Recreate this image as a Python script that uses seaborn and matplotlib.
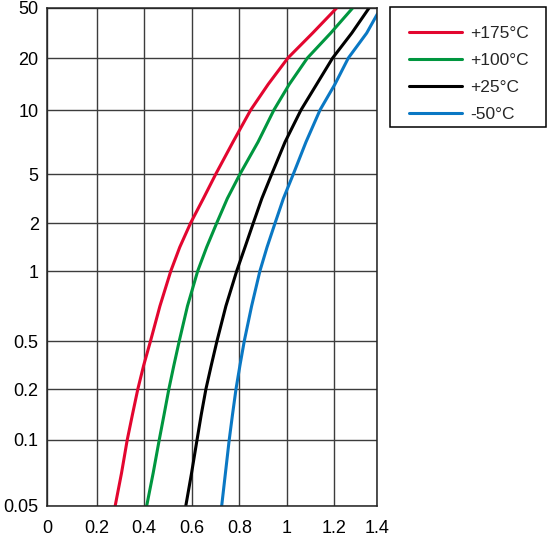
import numpy as np
import pandas as pd
import matplotlib
matplotlib.use("Agg")
import matplotlib.pyplot as plt
from matplotlib.patches import Rectangle
import seaborn as sns

sns.set_theme(style="white")
plt.rcParams['font.family'] = ['Liberation Sans', 'DejaVu Sans']

# tick values (non-uniform printed grid) and their relative positions on the chart
y_ticks = [0.05, 0.1, 0.2, 0.5, 1, 2, 5, 10, 20, 50]
y_tick_labels = ["0.05", "0.1", "0.2", "0.5", "1", "2", "5", "10", "20", "50"]
y_tick_pos = [0, 66, 117, 165, 235, 283, 332, 396, 448, 498]
x_ticks = [0, 0.2, 0.4, 0.6, 0.8, 1.0, 1.2, 1.4]
x_tick_labels = ["0", "0.2", "0.4", "0.6", "0.8", "1", "1.2", "1.4"]
x_tick_pos = [0, 49.7, 97, 145.3, 192.3, 239.7, 287.3, 330.5]

# current levels at which the curves were read
levels = [50, 31.6, 20, 14.1, 10, 7.07, 5, 3.16, 2, 1.41, 1,
          0.707, 0.5, 0.316, 0.2, 0.141, 0.1, 0.0707, 0.05]
levels_m50 = [45] + levels[1:]

v_175 = [1.211, 1.109, 1.005, 0.922, 0.848, 0.773, 0.700, 0.647, 0.593, 0.548,
         0.511, 0.466, 0.427, 0.399, 0.374, 0.351, 0.329, 0.305, 0.278]
v_100 = [1.285, 1.185, 1.087, 1.011, 0.946, 0.879, 0.803, 0.749, 0.704, 0.661,
         0.623, 0.580, 0.546, 0.524, 0.503, 0.483, 0.463, 0.438, 0.411]
v_25 = [1.361, 1.281, 1.193, 1.126, 1.060, 0.993, 0.937, 0.895, 0.859, 0.824,
        0.789, 0.743, 0.705, 0.681, 0.658, 0.638, 0.620, 0.597, 0.573]
v_m50 = [1.400, 1.350, 1.265, 1.203, 1.140, 1.081, 1.028, 0.986, 0.951, 0.917,
         0.887, 0.852, 0.821, 0.803, 0.786, 0.771, 0.757, 0.741, 0.725]

series_names = ["+175°C", "+100°C", "+25°C", "-50°C"]
colors = ["#e3062f", "#00963f", "#000000", "#0a78c4"]

rows = []
for name, xs, ys in zip(series_names, [v_175, v_100, v_25, v_m50],
                        [levels, levels, levels, levels_m50]):
    for xv, yv in zip(xs, ys):
        rows.append({"V": xv, "I": yv, "T": name})
df = pd.DataFrame(rows)

log_ticks = np.log10(y_ticks)
ypos = np.array(y_tick_pos, dtype=float)
xpos = np.array(x_tick_pos, dtype=float)
xval = np.array(x_ticks, dtype=float)


def yfwd(y):
    y = np.asarray(y, dtype=float)
    return np.interp(np.log10(np.maximum(y, 1e-9)), log_ticks, ypos)


def yinv(u):
    u = np.asarray(u, dtype=float)
    return 10 ** np.interp(u, ypos, log_ticks)


def xfwd(x):
    return np.interp(np.asarray(x, dtype=float), xval, xpos)


def xinv(u):
    return np.interp(np.asarray(u, dtype=float), xpos, xval)


W, H = 549, 539
fig = plt.figure(figsize=(W / 100, H / 100), dpi=100)
ax = fig.add_axes([47 / W, (H - 506) / H, (377.5 - 47) / W, (506 - 8) / H])
ax.set_yscale("function", functions=(yfwd, yinv))
ax.set_xscale("function", functions=(xfwd, xinv))

sns.lineplot(data=df, x="V", y="I", hue="T", palette=colors, hue_order=series_names,
             sort=False, estimator=None, linewidth=2.2, ax=ax)

ax.set_xlim(0, 1.4)
ax.set_ylim(0.05, 50)
ax.set_xticks(x_ticks)
ax.set_xticklabels(x_tick_labels)
ax.set_yticks(y_ticks)
ax.set_yticklabels(y_tick_labels)
ax.minorticks_off()
ax.tick_params(axis="both", length=0, labelsize=13, colors="black")
ax.tick_params(axis="x", pad=10)
ax.tick_params(axis="y", pad=6)
ax.set_xlabel("")
ax.set_ylabel("")
ax.grid(True, color="#3c3c3c", linewidth=1.0)
ax.set_axisbelow(True)
for s in ax.spines.values():
    s.set_visible(True)
    s.set_color("#222222")
    s.set_linewidth(1.1)

handles, labels = ax.get_legend_handles_labels()
ax.get_legend().remove()
leg = fig.legend(handles, labels, loc="upper left",
                 bbox_to_anchor=(393 / W, 1 - 9 / H), bbox_transform=fig.transFigure,
                 frameon=False, fontsize=12.5,
                 handlelength=3.0, handletextpad=0.5, labelspacing=0.69,
                 borderpad=0.95, borderaxespad=0)
for lh in leg.get_lines():
    lh.set_linewidth(2.2)

fig.patches.append(Rectangle((390 / W, 1 - 127 / H), 156 / W, 120 / H,
                             transform=fig.transFigure, fill=False,
                             edgecolor="black", linewidth=1.1))

fig.savefig("out.png", dpi=100)
